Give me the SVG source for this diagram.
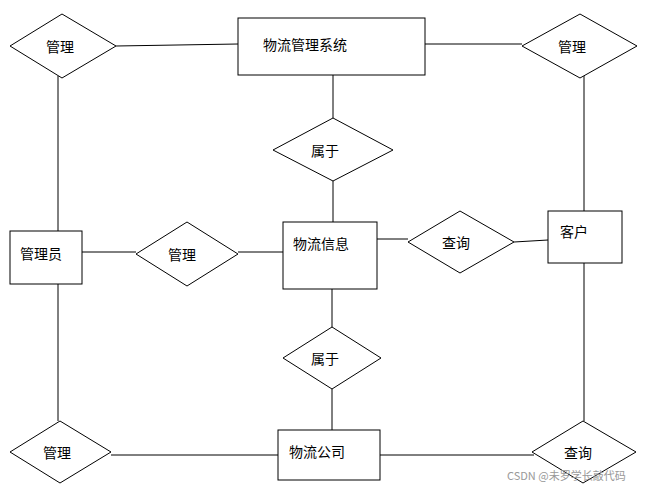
<svg xmlns="http://www.w3.org/2000/svg" width="650" height="490" viewBox="0 0 650 490">
<style>
.s{fill:#fff;stroke:#000;stroke-width:1}
.l{stroke:#000;stroke-width:1;fill:none}
text{font-family:"Noto Sans CJK SC","Liberation Sans",sans-serif;font-size:14px;fill:#000}
.c{text-anchor:middle}
</style>
<rect width="650" height="490" fill="#fff"/>
<g id="connectors">
<line class="l" x1="116" y1="46" x2="238" y2="44"/>
<line class="l" x1="425" y1="44" x2="522" y2="44"/>
<line class="l" x1="58" y1="76" x2="58" y2="231"/>
<line class="l" x1="584" y1="76" x2="584" y2="211"/>
<line class="l" x1="333" y1="75" x2="333" y2="118"/>
<line class="l" x1="333" y1="181" x2="333" y2="222"/>
<line class="l" x1="82" y1="252" x2="136" y2="252"/>
<line class="l" x1="238" y1="252" x2="283" y2="252"/>
<line class="l" x1="377" y1="239" x2="408" y2="239"/>
<line class="l" x1="514" y1="242" x2="548" y2="240"/>
<line class="l" x1="332" y1="289" x2="332" y2="327"/>
<line class="l" x1="332" y1="389" x2="332" y2="430"/>
<line class="l" x1="58" y1="284" x2="58" y2="421"/>
<line class="l" x1="584" y1="263" x2="584" y2="421"/>
<line class="l" x1="111" y1="455" x2="278" y2="455"/>
<line class="l" x1="380" y1="455" x2="534" y2="455"/>
</g>
<g id="sys"><rect class="s" x="238" y="18" width="187" height="57"/><text x="263" y="50">物流管理系统</text></g>
<g id="admin"><rect class="s" x="10" y="231" width="72" height="53"/><text x="20" y="259">管理员</text></g>
<g id="info"><rect class="s" x="283" y="222" width="94" height="67"/><text x="293" y="249">物流信息</text></g>
<g id="customer"><rect class="s" x="548" y="211" width="74" height="52"/><text x="560" y="237">客户</text></g>
<g id="company"><rect class="s" x="278" y="430" width="102" height="50"/><text x="289" y="457">物流公司</text></g>
<g id="d1"><polygon class="s" points="10,46 62,14 116,46 62,78"/><text class="c" x="60" y="52">管理</text></g>
<g id="d2"><polygon class="s" points="522,46 580,14 637,46 580,78"/><text class="c" x="572" y="52">管理</text></g>
<g id="d3"><polygon class="s" points="273,150 333,118 393,150 333,181"/><text class="c" x="325" y="156">属于</text></g>
<g id="d4"><polygon class="s" points="136,254 187,222 238,254 187,286"/><text class="c" x="182" y="260">管理</text></g>
<g id="d5"><polygon class="s" points="408,242 460,211 514,242 460,273"/><text class="c" x="456" y="248">查询</text></g>
<g id="d6"><polygon class="s" points="283,358 332,327 381,358 332,389"/><text class="c" x="325" y="364">属于</text></g>
<g id="d7"><polygon class="s" points="10,452 60,421 111,452 60,483"/><text class="c" x="57" y="458">管理</text></g>
<g id="d8"><polygon class="s" points="532,452 583,421 636,452 583,483"/><text class="c" x="578" y="458">查询</text></g>
<text x="507" y="480" style="font-size:11px;fill:#999">CSDN @未罗学长敲代码</text>
</svg>
